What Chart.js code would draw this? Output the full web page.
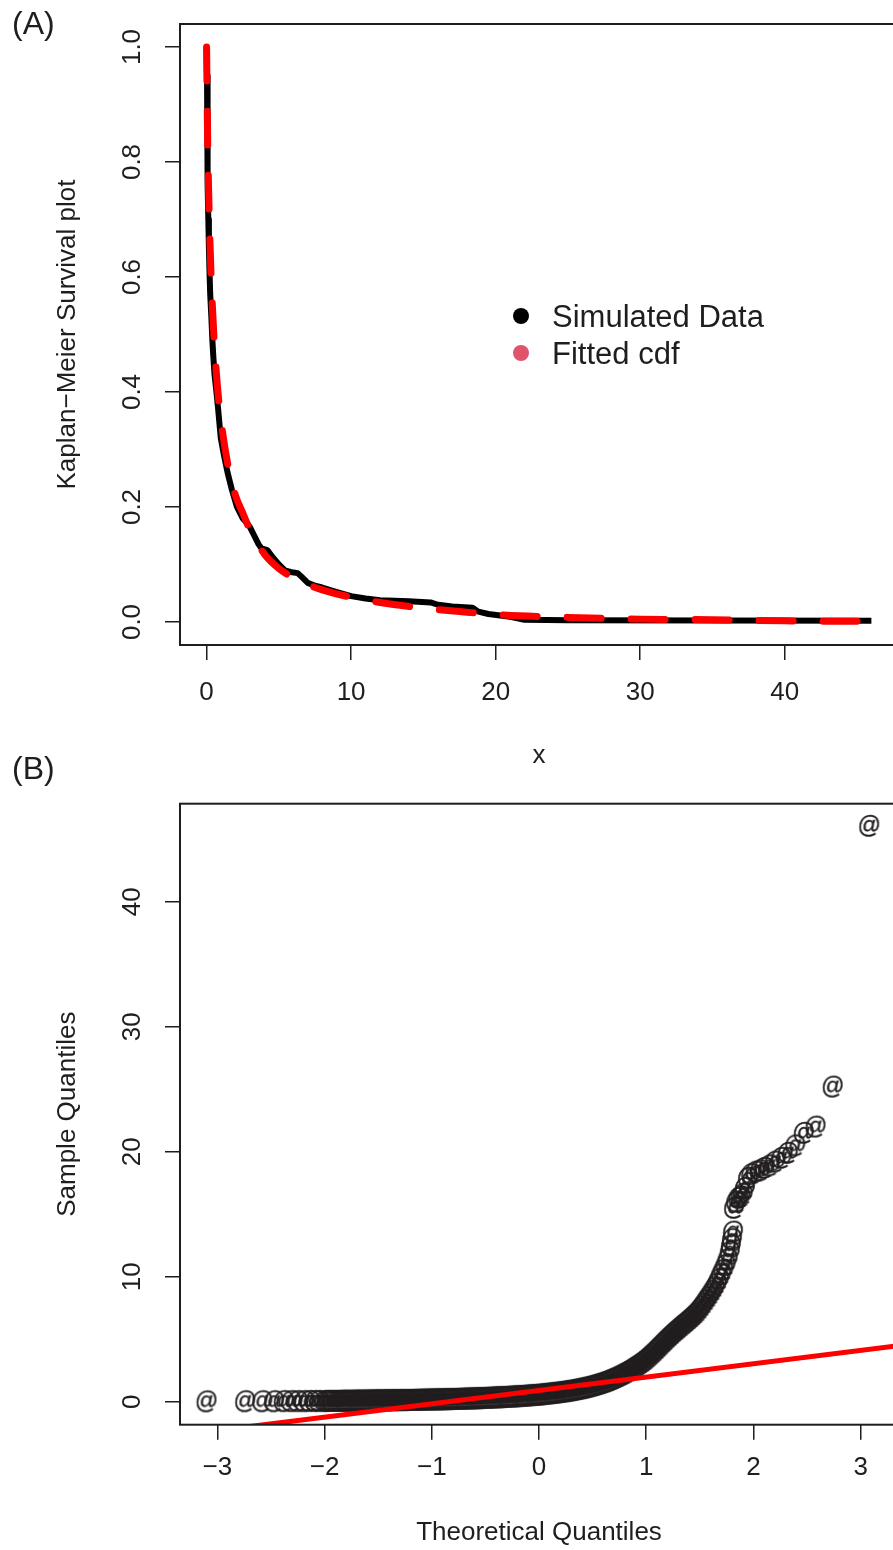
<!DOCTYPE html>
<html>
<head>
<meta charset="utf-8">
<script src="https://cdn.jsdelivr.net/npm/chart.js@4.4.0/dist/chart.umd.min.js"></script>
<style>
    html, body { margin: 0; padding: 0; background: #fff; overflow: hidden; width: 893px; height: 1550px; }
    #wrap { position: relative; width: 893px; height: 1550px; overflow: hidden; }
    #wrap canvas { position: absolute; left: 0; display: block; }
</style>
</head>
<body>
<div id="wrap">
    <canvas id="kmChart" width="920" height="775" style="top:0;width:920px;height:775px"></canvas>
    <canvas id="qqChart" width="920" height="805" style="top:745px;width:920px;height:805px"></canvas>
</div>
<script>
// (A) Kaplan-Meier curve of the simulated data
const kmTime = [0, 0.03, 0.05, 0.07, 0.09, 0.12, 0.16, 0.20, 0.25, 0.33, 0.40, 0.47, 0.55, 0.68, 0.80, 0.98,
    1.2, 1.45, 1.75, 2.1, 2.5, 2.8, 3.0, 3.3, 3.6, 3.8, 4.2, 4.5, 5.0, 5.4, 5.8, 6.3, 6.6, 7.0, 7.5, 8.0,
    8.9, 10.0, 11.0, 12.0, 14.0, 15.5, 16.0, 17.0, 18.4, 18.8, 19.5, 21.0, 22.0, 25.0, 46.0];
const kmSurv = [1.0, 0.95, 0.90, 0.82, 0.76, 0.70, 0.65, 0.61, 0.57, 0.53, 0.49, 0.46, 0.43, 0.40, 0.37, 0.32,
    0.29, 0.26, 0.23, 0.20, 0.18, 0.172, 0.165, 0.15, 0.135, 0.128, 0.125, 0.115, 0.10, 0.09, 0.087, 0.085, 0.078, 0.068, 0.063, 0.06,
    0.053, 0.045, 0.041, 0.038, 0.036, 0.034, 0.030, 0.027, 0.025, 0.018, 0.014, 0.009, 0.004, 0.003, 0.002];

// fitted survival curve (red dashed)
const fitTime = [0, 0.05, 0.1, 0.2, 0.3, 0.5, 0.75, 1.0, 1.5, 2.0, 2.5, 3.0, 4.0, 5.0, 6.0, 7.0, 8.0,
    10.0, 12.0, 15.0, 18.0, 20.0, 25.0, 30.0, 35.0, 40.0, 46.0];
const fitSurv = [1.0, 0.88, 0.80, 0.69, 0.61, 0.50, 0.41, 0.35, 0.27, 0.22, 0.19, 0.16, 0.118, 0.093, 0.077, 0.065, 0.056,
    0.043, 0.034, 0.024, 0.017, 0.013, 0.008, 0.005, 0.004, 0.002, 0.001];

const kmXTicks = [0, 10, 20, 30, 40];
const kmYTicks = [0, 0.2, 0.4, 0.6, 0.8, 1.0];
const legendLabels = ['Simulated Data', 'Fitted cdf'];
const legendColors = ['#000000', '#DF536B'];

// (B) normal QQ plot: theoretical vs sample quantiles
const qqTheo = [-3.10, -2.74, -2.58, -2.47, -2.38, -2.31, -2.25, -2.19, -2.14, -2.09, -2.05,
    -2.00, -1.98, -1.96, -1.94, -1.92, -1.90, -1.88, -1.86, -1.84, -1.82, -1.80, -1.78, -1.76, -1.74,
    -1.72, -1.70, -1.68, -1.66, -1.64, -1.62, -1.60, -1.58, -1.56, -1.54, -1.52, -1.50, -1.48, -1.46,
    -1.44, -1.42, -1.40, -1.38, -1.36, -1.34, -1.32, -1.30, -1.28, -1.26, -1.24, -1.22, -1.20, -1.18,
    -1.16, -1.14, -1.12, -1.10, -1.08, -1.06, -1.04, -1.02, -1.00, -0.98, -0.96, -0.94, -0.92, -0.90,
    -0.88, -0.86, -0.84, -0.82, -0.80, -0.78, -0.76, -0.74, -0.72, -0.70, -0.68, -0.66, -0.64, -0.62,
    -0.60, -0.58, -0.56, -0.54, -0.52, -0.50, -0.48, -0.46, -0.44, -0.42, -0.40, -0.38, -0.36, -0.34,
    -0.32, -0.30, -0.28, -0.26, -0.24, -0.22, -0.20, -0.18, -0.16, -0.14, -0.12, -0.10, -0.08, -0.06,
    -0.04, -0.02, 0.00, 0.02, 0.04, 0.06, 0.08, 0.10, 0.12, 0.14, 0.16, 0.18, 0.20, 0.22, 0.24, 0.26,
    0.28, 0.30, 0.32, 0.34, 0.36, 0.38, 0.40, 0.42, 0.44, 0.46, 0.48, 0.50, 0.52, 0.54, 0.56, 0.58,
    0.60, 0.62, 0.64, 0.66, 0.68, 0.70, 0.72, 0.74, 0.76, 0.78, 0.80, 0.82, 0.84, 0.86, 0.88, 0.90,
    0.92, 0.94, 0.96, 0.98, 1.00, 1.02, 1.04, 1.06, 1.08, 1.10, 1.12, 1.14, 1.16, 1.18, 1.20, 1.22,
    1.24, 1.26, 1.28, 1.30, 1.32, 1.34, 1.36, 1.38, 1.40, 1.42, 1.44, 1.46, 1.48, 1.50, 1.52, 1.54,
    1.56, 1.58, 1.60, 1.62, 1.64, 1.66, 1.68, 1.70, 1.72, 1.74, 1.76, 1.78, 1.79, 1.80, 1.81,
    1.82, 1.84, 1.86, 1.88, 1.90, 1.92, 1.95, 1.98, 2.02, 2.06, 2.10, 2.15, 2.20, 2.26, 2.32, 2.39,
    2.47, 2.58, 2.74, 3.08];
const qqSample = [0.02, 0.03, 0.03, 0.03, 0.04, 0.04, 0.04, 0.04, 0.05, 0.05, 0.05,
    0.05, 0.05, 0.06, 0.06, 0.06, 0.06, 0.06, 0.06, 0.07, 0.07, 0.07, 0.07, 0.07, 0.07,
    0.08, 0.08, 0.08, 0.08, 0.08, 0.08, 0.09, 0.09, 0.09, 0.09, 0.10, 0.10, 0.10, 0.10,
    0.11, 0.11, 0.11, 0.11, 0.12, 0.12, 0.12, 0.12, 0.13, 0.13, 0.13, 0.13, 0.14, 0.14,
    0.14, 0.15, 0.15, 0.15, 0.16, 0.16, 0.16, 0.17, 0.17, 0.17, 0.18, 0.18, 0.18, 0.19,
    0.19, 0.20, 0.20, 0.21, 0.21, 0.22, 0.22, 0.23, 0.23, 0.24, 0.24, 0.25, 0.25, 0.26,
    0.26, 0.27, 0.28, 0.28, 0.29, 0.30, 0.31, 0.31, 0.32, 0.33, 0.34, 0.35, 0.35, 0.36,
    0.37, 0.38, 0.39, 0.40, 0.41, 0.42, 0.43, 0.44, 0.45, 0.46, 0.48, 0.49, 0.50, 0.52,
    0.53, 0.54, 0.56, 0.57, 0.59, 0.61, 0.63, 0.65, 0.67, 0.69, 0.71, 0.73, 0.75, 0.78, 0.80, 0.83,
    0.85, 0.88, 0.91, 0.94, 0.98, 1.01, 1.05, 1.08, 1.12, 1.16, 1.20, 1.25, 1.30, 1.35, 1.40, 1.45,
    1.51, 1.57, 1.63, 1.70, 1.77, 1.84, 1.92, 2.00, 2.08, 2.17, 2.26, 2.35, 2.45, 2.55, 2.66, 2.77,
    2.88, 3.00, 3.12, 3.24, 3.37, 3.52, 3.68, 3.84, 4.00, 4.17, 4.34, 4.51, 4.69, 4.86, 5.04, 5.20,
    5.36, 5.52, 5.67, 5.82, 5.97, 6.12, 6.26, 6.40, 6.55, 6.70, 6.86, 7.02, 7.20, 7.40, 7.62, 7.85,
    8.10, 8.35, 8.60, 8.88, 9.15, 9.45, 9.80, 10.20, 10.55, 10.95, 11.40, 12.00, 12.50, 13.00, 13.60,
    15.50, 16.00, 16.30, 16.40, 16.60, 17.10, 17.90, 18.20, 18.40, 18.50, 18.70, 18.90, 19.20, 19.50, 19.90, 20.50,
    21.50, 22.00, 25.20, 46.06];

// qqline end points (clipped by the plot box)
const qqLineX = [-3.35, 3.35];
const qqLineY = [-2.68, 4.48];

const qqXTicks = [-3, -2, -1, 0, 1, 2, 3];
const qqYTicks = [0, 10, 20, 30, 40];

const FONT = '"Liberation Sans", Arial, Helvetica, sans-serif';
const INK = '#1f1d1e';

// R-like frame: box, rotated y labels, panel tag, optional legend
const rFrame = {
    id: 'rFrame',
    afterDraw(chart, args, opts) {
        const { ctx, chartArea: a } = chart;
        const yScale = chart.scales.y;
        ctx.save();
        ctx.strokeStyle = INK;
        ctx.lineWidth = 2;
        ctx.strokeRect(a.left, a.top, a.right - a.left, a.bottom - a.top);

        ctx.fillStyle = INK;
        ctx.font = '26px ' + FONT;
        ctx.textAlign = 'center';
        ctx.textBaseline = 'middle';
        yScale.ticks.forEach(t => {
            ctx.save();
            ctx.translate(opts.labelX, yScale.getPixelForValue(t.value));
            ctx.rotate(-Math.PI / 2);
            ctx.fillText(opts.fmt(t.value), 0, 0);
            ctx.restore();
        });

        ctx.textAlign = 'left';
        ctx.font = '32px ' + FONT;
        ctx.fillText(opts.tag, 12, opts.tagY);

        if (opts.legend) {
            ctx.font = '31px ' + FONT;
            opts.legend.labels.forEach((lab, i) => {
                const ly = opts.legend.y + i * opts.legend.gap;
                ctx.fillStyle = opts.legend.colors[i];
                ctx.beginPath();
                ctx.arc(opts.legend.x, ly, 8, 0, Math.PI * 2);
                ctx.fill();
                ctx.fillStyle = INK;
                ctx.fillText(lab, opts.legend.x + 31, ly + 2);
            });
        }
        ctx.restore();
    }
};

function xAxis(min, max, ticks, title, tickPad, titlePad, height) {
    return {
        type: 'linear', min: min, max: max,
        afterBuildTicks: s => { s.ticks = ticks.map(v => ({ value: v })); },
        afterFit: s => { s.height = height; s.paddingLeft = 0; s.paddingRight = 0; },
        border: { display: false },
        grid: { display: true, drawOnChartArea: false, drawTicks: true, tickLength: 15, color: INK, lineWidth: 1.5 },
        ticks: {
            color: INK, padding: tickPad, font: { family: FONT, size: 26 }, maxRotation: 0,
            callback: v => String(v).replace('-', '\u2212')
        },
        title: { display: true, text: title, color: INK, font: { family: FONT, size: 26 }, padding: { top: 0, bottom: titlePad } }
    };
}

function yAxis(min, max, ticks, title) {
    return {
        type: 'linear', min: min, max: max,
        afterBuildTicks: s => { s.ticks = ticks.map(v => ({ value: v })); },
        afterFit: s => { s.width = 180; s.paddingTop = 0; s.paddingBottom = 0; },
        border: { display: false },
        grid: { display: true, drawOnChartArea: false, drawTicks: true, tickLength: 15, color: INK, lineWidth: 1.5 },
        ticks: { display: false },
        title: { display: true, text: title, color: INK, font: { family: FONT, size: 26 }, padding: { top: 52, bottom: 0 } }
    };
}

// canvas is 920 wide; a 22px right padding puts the box edge at 898, just off the page
// (the generous padding swallows any label/point overflow padding Chart.js adds)
const PAD_RIGHT = 22;

// Panel A
new Chart(document.getElementById('kmChart'), {
    type: 'line',
    data: {
        datasets: [{
            label: 'Fitted cdf',
            data: fitTime.map((t, i) => ({ x: t, y: fitSurv[i] })),
            borderColor: '#FF0000',
            borderWidth: 7,
            borderDash: [34, 30],
            borderCapStyle: 'round',
            cubicInterpolationMode: 'monotone',
            pointRadius: 0,
            clip: 0
        }, {
            label: 'Simulated Data',
            data: kmTime.map((t, i) => ({ x: t, y: kmSurv[i] })),
            borderColor: '#000000',
            borderWidth: 6,
            borderJoinStyle: 'round',
            pointRadius: 0,
            clip: 0
        }]
    },
    options: {
        responsive: false,
        animation: false,
        events: [],
        layout: { autoPadding: false, padding: { top: 24, right: PAD_RIGHT, left: 0, bottom: 0 } },
        plugins: {
            legend: { display: false },
            tooltip: { enabled: false },
            rFrame: {
                labelX: 133, fmt: v => v.toFixed(1), tag: '(A)', tagY: 25,
                legend: { x: 521, y: 316, gap: 37, labels: legendLabels, colors: legendColors }
            }
        },
        scales: {
            x: xAxis(-1.84, 47.84, kmXTicks, 'x', 17, 4, 130),
            y: yAxis(-0.04, 1.04, kmYTicks, 'Kaplan\u2212Meier Survival plot')
        }
    },
    plugins: [rFrame]
});

// "@" glyph used as the point symbol
function atGlyph() {
    const c = document.createElement('canvas');
    c.width = 28; c.height = 28;
    const g = c.getContext('2d');
    g.font = '23px ' + FONT;
    g.fillStyle = '#231f20';
    g.strokeStyle = '#231f20';
    g.lineWidth = 0.4;
    g.textAlign = 'center';
    g.textBaseline = 'middle';
    g.fillText('@', 14, 15);
    g.strokeText('@', 14, 15);
    return c;
}

// Panel B
new Chart(document.getElementById('qqChart'), {
    type: 'scatter',
    data: {
        datasets: [{
            type: 'line',
            label: 'qqline',
            data: qqLineX.map((x, i) => ({ x: x, y: qqLineY[i] })),
            borderColor: '#FF0000',
            borderWidth: 5,
            pointRadius: 0,
            order: 0,
            clip: 0
        }, {
            label: 'Sample',
            data: qqTheo.map((x, i) => ({ x: x, y: qqSample[i] })),
            showLine: false,
            pointStyle: atGlyph(),
            pointRadius: 10,
            order: 1,
            clip: 0
        }]
    },
    options: {
        responsive: false,
        animation: false,
        events: [],
        layout: { autoPadding: false, padding: { top: 58.7, right: PAD_RIGHT, left: 0, bottom: 0 } },
        plugins: {
            legend: { display: false },
            tooltip: { enabled: false },
            rFrame: { labelX: 133, fmt: v => String(v), tag: '(B)', tagY: 25 }
        },
        scales: {
            x: xAxis(-3.348, 3.348, qqXTicks, 'Theoretical Quantiles', 13, 1.5, 125.3),
            y: yAxis(-1.84, 47.84, qqYTicks, 'Sample Quantiles')
        }
    },
    plugins: [rFrame]
});
</script>
</body>
</html>
